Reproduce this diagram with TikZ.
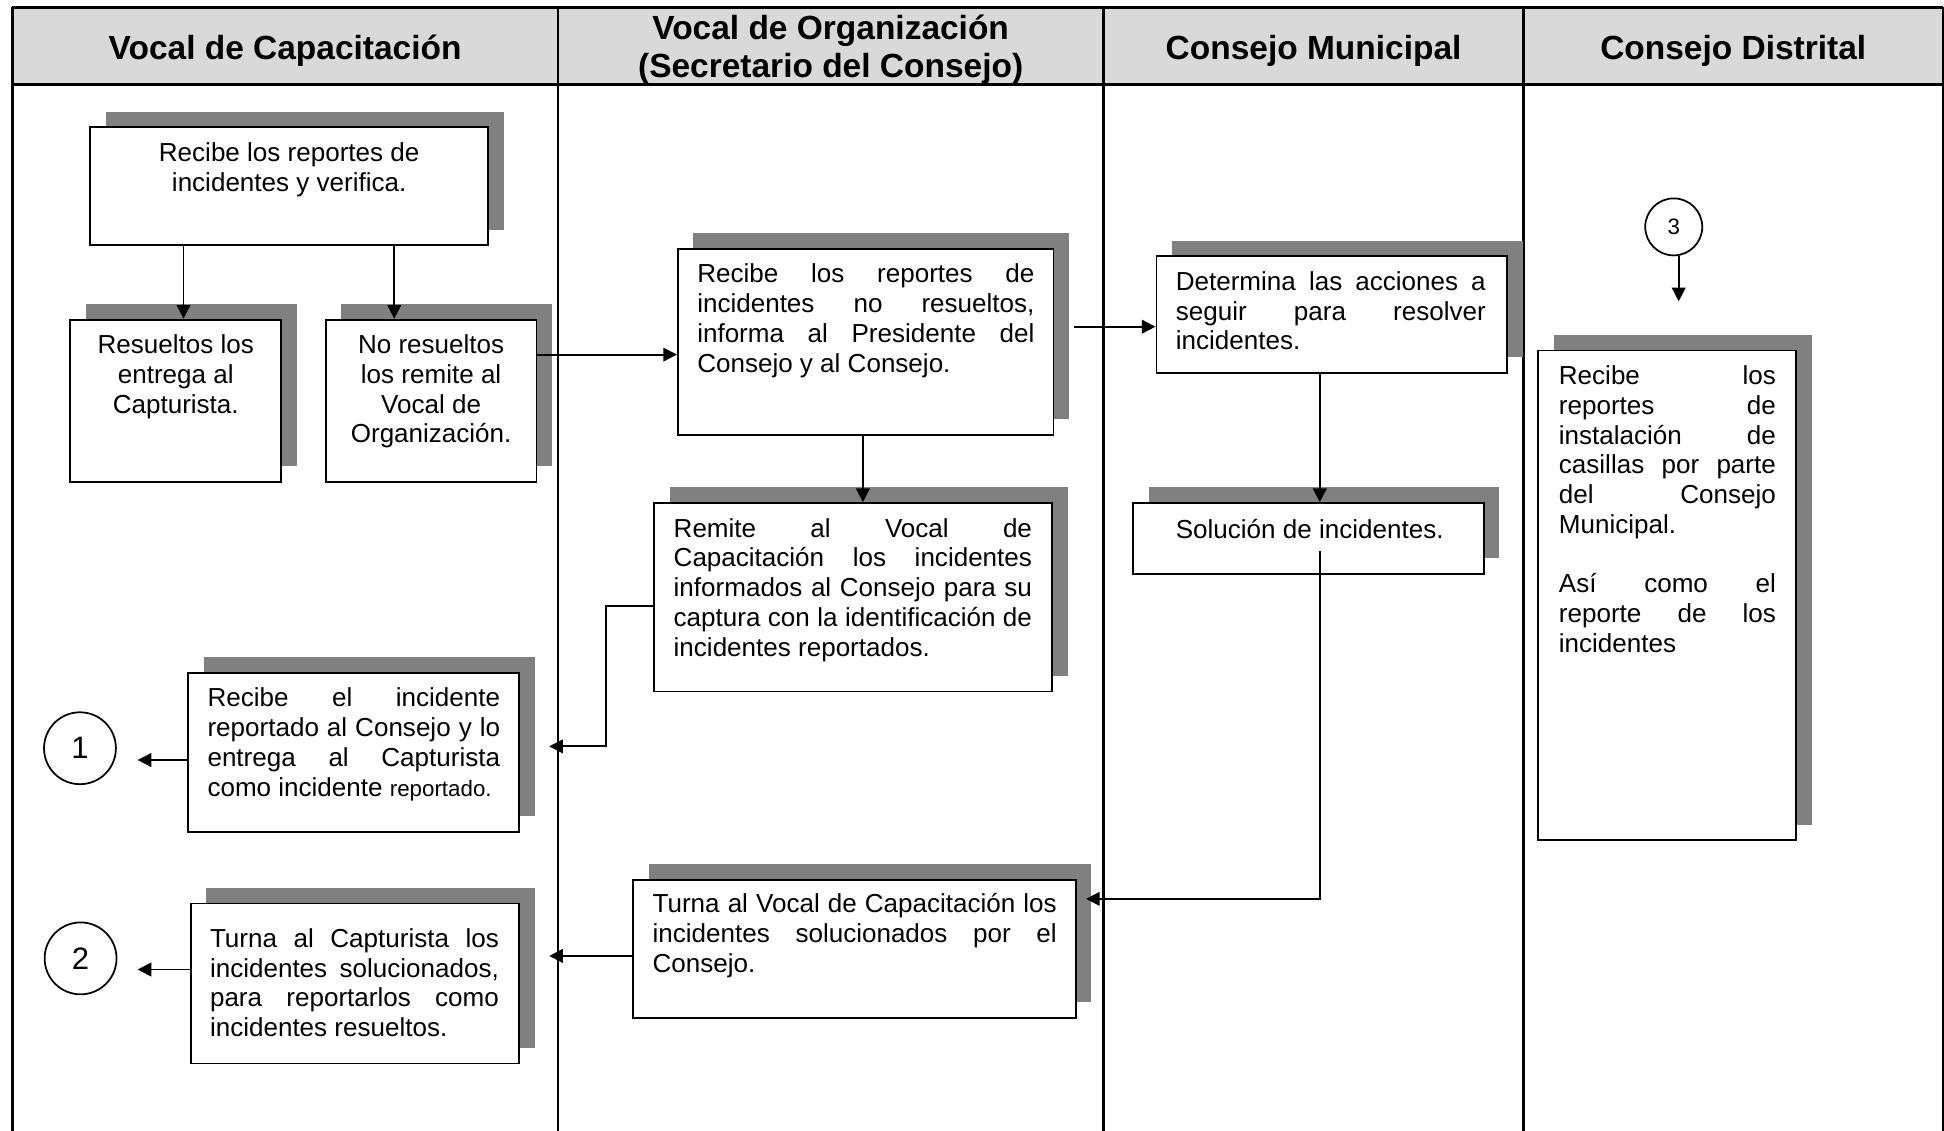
\documentclass[tikz,border=0pt]{standalone}
\usepackage{fontspec}
\setmainfont{Liberation Sans}
\usetikzlibrary{arrows.meta,shadows,calc}
\definecolor{shgray}{RGB}{128,128,128}
\definecolor{hdgray}{RGB}{217,217,217}
\begin{document}
\begin{tikzpicture}[x=0.5pt,y=-0.5pt,
  pbox/.style={draw=black, line width=0.75pt, fill=white, inner sep=0pt, anchor=north west,
    general shadow={fill=shgray, shadow xshift=6.3pt, shadow yshift=6.3pt}},
  txt/.style={inner sep=0pt, font=\fontsize{10.5}{12}\selectfont},
  jtxt/.style={txt, align=justify, anchor=north west},
  ctxt/.style={txt, align=center, anchor=north},
  arr/.style={line width=0.75pt, -{Triangle[length=5.5pt,width=5.5pt]}},
  hdr/.style={font=\bfseries\fontsize{13.5}{15}\selectfont, align=center, inner sep=0pt},
  lane/.style={line width=1pt},
  circ/.style={draw, circle, line width=0.7pt, inner sep=0pt}
]
\useasboundingbox (0,0) rectangle (1568,912);

% lanes and header
\fill[hdgray] (10,6) rectangle (1567,68);
\draw[lane] (10,6) -- (1567,6);
\draw[lane] (10,68) -- (1567,68);
\foreach \xx in {10,450,890,1229,1567} \draw[lane] (\xx,6) -- (\xx,912);

\node[hdr] (h1) at (230,41) {Vocal de Capacitación};
\node[hdr] (h2) at (670,40) {Vocal de Organización\\(Secretario del Consejo)};
\node[hdr] (h3) at (1059.5,41) {Consejo Municipal};
\node[hdr] (h4) at (1398,41) {Consejo Distrital};

% boxes
\node[pbox, minimum width=160.5pt, minimum height=47.5pt] (b1) at (72,102) {};
\node[ctxt] (b1t) at ($(b1.north)+(0,11)$) {\strut Recibe los reportes de\\incidentes y verifica.};

\node[pbox, minimum width=85pt, minimum height=65.5pt] (res) at (56,257) {};
\node[ctxt] (rest) at ($(res.north)+(0,11)$) {\strut Resueltos los\\entrega al\\Capturista.};

\node[pbox, minimum width=85pt, minimum height=65.5pt] (nores) at (262,257) {};
\node[ctxt] (norest) at ($(nores.north)+(0,11)$) {\strut No resueltos\\los remite al\\Vocal de\\Organización.};

\node[pbox, minimum width=151.5pt, minimum height=75pt] (b3) at (546,200) {};
\node[jtxt, text width=136pt] (b3t) at ($(b3.north west)+(16,11)$) {\strut Recibe los reportes de\linebreak incidentes no resueltos,\linebreak informa al Presidente del\linebreak Consejo y al Consejo.};

\node[pbox, minimum width=160.5pt, minimum height=76pt] (b4) at (527,405) {};
\node[jtxt, text width=144.5pt] (b4t) at ($(b4.north west)+(16,11)$) {\strut Remite al Vocal de\linebreak Capacitación los incidentes\linebreak informados al Consejo para su\linebreak captura con la identificación de\linebreak incidentes reportados.};

\node[pbox, minimum width=141.5pt, minimum height=47pt] (det) at (932,206) {};
\node[jtxt, text width=125pt] (dett) at ($(det.north west)+(16,11)$) {\strut Determina las acciones a\linebreak seguir para resolver\linebreak incidentes.};

\node[pbox, minimum width=141.5pt, minimum height=28.5pt] (sol) at (913,405) {};
\node[txt, anchor=north west] (solt) at ($(sol.north west)+(35,12)$) {\strut Solución de incidentes.};

\node[pbox, minimum width=133.5pt, minimum height=64pt] (recinc) at (151,542) {};
\node[jtxt, text width=118pt] (recinct) at ($(recinc.north west)+(16,11)$) {\strut Recibe el incidente\linebreak reportado al Consejo y lo\linebreak entrega al Capturista\linebreak como incidente {\fontsize{9}{12}\selectfont reportado.}};

\node[pbox, minimum width=132.5pt, minimum height=64.5pt] (turncap) at (153,728) {};
\node[jtxt, text width=116.5pt] (turncapt) at ($(turncap.north west)+(16,19)$) {\strut Turna al Capturista los\linebreak incidentes solucionados,\linebreak para reportarlos como\linebreak incidentes resueltos.};

\node[pbox, minimum width=178.5pt, minimum height=55.5pt] (turnav) at (510,709) {};
\node[jtxt, text width=163pt] (turnavt) at ($(turnav.north west)+(16,10)$) {\strut Turna al Vocal de Capacitación los\linebreak incidentes solucionados por el\linebreak Consejo.};

\node[pbox, minimum width=104pt, minimum height=197.5pt] (distr) at (1240,282) {};
\node[jtxt, text width=87.5pt] (distrt) at ($(distr.north west)+(17,11)$) {\strut Recibe los\linebreak reportes de\linebreak instalación de\linebreak casillas por parte\linebreak del Consejo\linebreak Municipal.\\[12pt]Así como el\linebreak reporte de los\linebreak incidentes};

% connectors circles
\node[circ, minimum size=29pt, font=\fontsize{12.5}{14}\selectfont] (c1) at (64.5,603.5) {1};
\node[circ, minimum size=29pt, font=\fontsize{12.5}{14}\selectfont] (c2) at (65,773) {2};
\node[circ, minimum size=23pt, font=\fontsize{9}{10}\selectfont] (c3) at (1350,183) {3};

% helper coordinates
\coordinate (xa) at (148,0);
\coordinate (xb) at (318,0);
\coordinate (ya) at (0,286);
\coordinate (xc) at (696,0);
\coordinate (yb) at (0,263.5);
\coordinate (xd) at (1064.5,0);
\coordinate (yd) at (0,489);
\coordinate (xe) at (489,0);
\coordinate (tipA) at (443,602);
\coordinate (tipB) at (443,771);
\coordinate (tipC) at (876,725);
\coordinate (tip1) at (111,613);
\coordinate (tip2) at (111,782);
\coordinate (tip3) at (1354,243);

% connectors
\draw[arr] (b1.south -| xa) -- (res.north -| xa);
\draw[arr] (b1.south -| xb) -- (nores.north -| xb);
\draw[arr] (nores.east |- ya) -- (b3.west |- ya);
\draw[arr] (b3.south -| xc) -- (b4.north -| xc);
\draw[arr] ([xshift=8pt]b3.east |- yb) -- (det.west |- yb);
\draw[arr] (det.south -| xd) -- (sol.north -| xd);
\draw[arr] ([yshift=9.5pt]sol.south -| xd) -- (xd |- tipC) -- (tipC);
\draw[arr] (b4.west |- yd) -- (xe |- yd) -- (xe |- tipA) -- (tipA);
\draw[arr] (turnav.west |- tipB) -- (tipB);
\draw[arr] (recinc.west |- tip1) -- (tip1);
\draw[arr] (turncap.west |- tip2) -- (tip2);
\draw[arr] (c3.south -| tip3) -- (tip3);
\end{tikzpicture}
\end{document}
